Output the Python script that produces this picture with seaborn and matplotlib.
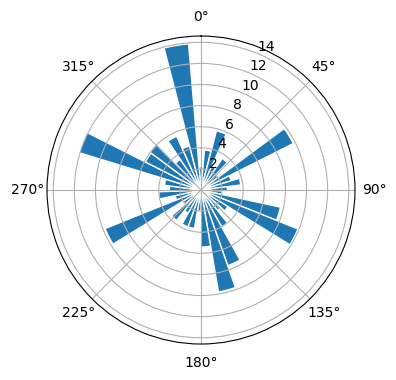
import numpy as np
import pandas as pd
import matplotlib
matplotlib.use("Agg")
import matplotlib.pyplot as plt
import seaborn as sns

# 37 evenly spaced directions (index k -> k * 360/37 degrees, clockwise from north)
n_bins = 37
heights = [2.2, 3.8, 5.8, 2.5, 3.6, 2.0, 9.8, 3.0, 3.8, 2.5,
           2.0, 7.7, 9.9, 3.0, 2.5, 4.0, 7.6, 9.8, 5.4, 2.0,
           3.7, 3.7, 2.5, 3.7, 2.0, 9.8, 2.5, 4.0, 3.0, 3.5,
           12.1, 5.9, 6.0, 3.5, 5.6, 4.3, 13.9]
rticks = [2, 4, 6, 8, 10, 12, 14]
theta_labels = ["0°", "45°", "90°", "135°", "180°", "225°", "270°", "315°"]

theta = np.linspace(0, 2 * np.pi, n_bins, endpoint=False)
df = pd.DataFrame({"theta": theta, "r": heights})

fig = plt.figure(figsize=(3.96, 3.80), dpi=100)
ax = fig.add_axes([0.1187, 0.0947, 0.7778, 0.8105], projection="polar")
ax.set_theta_zero_location("N")
ax.set_theta_direction(-1)

sns.barplot(data=df, x="theta", y="r", native_scale=True, width=1.0,
            color="#1f77b4", saturation=1, edgecolor="white", linewidth=1,
            errorbar=None, ax=ax)
ax.set_xlabel("")
ax.set_ylabel("")
ax.set_yticks(rticks)
ax.set_xticks(np.deg2rad(np.arange(0, 360, 45)))
ax.set_xticklabels(theta_labels)
ax.grid(True)
ax.set_axisbelow("line")
fig.savefig("out.png", dpi=100)
